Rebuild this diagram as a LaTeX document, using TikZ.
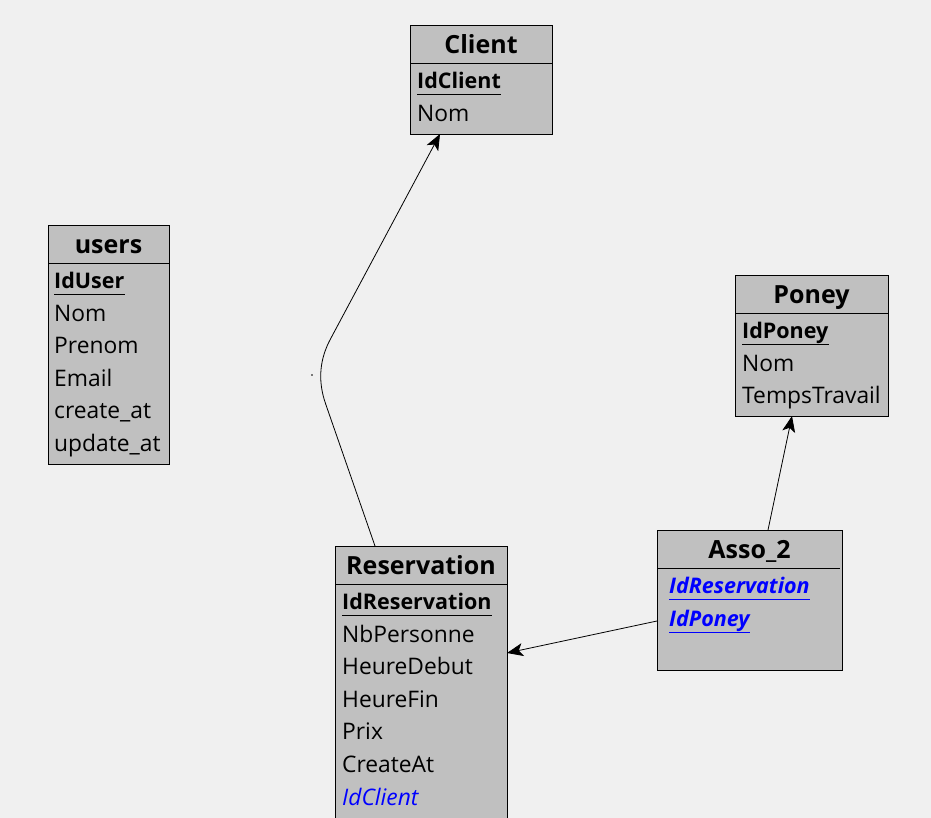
\documentclass[tikz,border=0pt]{standalone}
\usepackage{fontspec}
\setmainfont{Open Sans}
\usetikzlibrary{arrows.meta,calc}
\definecolor{bg}{HTML}{F0F0F0}
\definecolor{ent}{HTML}{C0C0C0}
\definecolor{fk}{HTML}{0000FF}
\begin{document}
\begin{tikzpicture}[x=1pt,y=-1pt,
  entbox/.style={draw=black, fill=ent, line width=0.9pt, anchor=north west, inner sep=0pt, outer sep=0pt},
  ttl/.style={font=\fontsize{25}{25}\selectfont\bfseries, anchor=base, inner sep=0pt},
  attr/.style={font=\fontsize{22.8}{23}\selectfont, anchor=base west, inner sep=0pt},
  pk/.style={attr, font=\fontsize{21.5}{22}\selectfont\bfseries},
  fkey/.style={attr, text=fk, font=\fontsize{22.8}{23}\selectfont\itshape},
  pfk/.style={attr, text=fk, font=\fontsize{21.5}{22}\selectfont\bfseries\itshape},
  hline/.style={draw=black, line width=0.9pt},
  uline/.style={line width=0.9pt},
  conn/.style={draw=black, line width=0.8pt, -{Stealth[length=16pt,width=13pt,inset=4pt]}}
]
\fill[bg] (0,0) rectangle (931,818);
\useasboundingbox (0,0) rectangle (931,818);
\clip (0,0) rectangle (931,818);

% Client
\node[entbox, minimum width=142pt, minimum height=109pt] (client) at (410,25) {};
\draw[hline] (410,63) -- (552,63);
\node[ttl] (clientT) at (481,53.5) {Client};
\node[pk] (cid) at (417,88.5) {IdClient};
\draw[uline] ([yshift=-6pt]cid.base west) -- ([yshift=-6pt]cid.base east);
\node[attr] (cnom) at (417,121.5) {Nom};

% users
\node[entbox, minimum width=121pt, minimum height=239pt] (users) at (48,225) {};
\draw[hline] (48,263) -- (169,263);
\node[ttl] (usersT) at (108.5,253.5) {users};
\node[pk] (uid) at (54,288.5) {IdUser};
\draw[uline] ([yshift=-6pt]uid.base west) -- ([yshift=-6pt]uid.base east);
\node[attr] (unom) at (54,321.1) {Nom};
\node[attr] (upre) at (54,353.7) {Prenom};
\node[attr] (uem) at (54,386.3) {Email};
\node[attr] (ucr) at (54,418.9) {create\_at};
\node[attr] (uup) at (54,451.5) {update\_at};

% Poney
\node[entbox, minimum width=153pt, minimum height=141pt] (poney) at (735,275) {};
\draw[hline] (735,313) -- (888,313);
\node[ttl] (poneyT) at (811.5,303.5) {Poney};
\node[pk] (pid) at (742,338.5) {IdPoney};
\draw[uline] ([yshift=-6pt]pid.base west) -- ([yshift=-6pt]pid.base east);
\node[attr] (pnom) at (742,371.1) {Nom};
\node[attr] (ptt) at (742,403.7) {TempsTravail};

% Asso_2
\node[entbox, minimum width=185pt, minimum height=140pt] (asso) at (657,530) {};
\draw[hline] (657,568) -- (840,568);
\node[ttl] (assoT) at (749.5,558.5) {Asso\_2};
\node[pfk] (ares) at (669,593.5) {IdReservation};
\draw[uline, fk] ([yshift=-6pt]ares.base west) -- ([yshift=-6pt]ares.base east);
\node[pfk] (apon) at (669,626.1) {IdPoney};
\draw[uline, fk] ([yshift=-6pt]apon.base west) -- ([yshift=-6pt]apon.base east);

% Reservation
\node[entbox, minimum width=172pt, minimum height=290pt] (res) at (335,546) {};
\draw[hline] (335,584) -- (507,584);
\node[ttl] (resT) at (421,574.5) {Reservation};
\node[pk] (rid) at (342,609.5) {IdReservation};
\draw[uline] ([yshift=-6pt]rid.base west) -- ([yshift=-6pt]rid.base east);
\node[attr] (rnb) at (342,642.1) {NbPersonne};
\node[attr] (rhd) at (342,674.7) {HeureDebut};
\node[attr] (rhf) at (342,707.3) {HeureFin};
\node[attr] (rpx) at (342,739.9) {Prix};
\node[attr] (rca) at (342,772.5) {CreateAt};
\node[fkey] (rcl) at (342,805.1) {IdClient};

% connector anchor points
\coordinate (resTop) at ($(res.north west)+(40,0)$);
\coordinate (resEast) at ($(res.north west)+(172,107)$);
\coordinate (clientBot) at ($(client.south west)+(30,0)$);
\coordinate (poneyBot) at ($(poney.south west)+(57,0)$);
\coordinate (assoTop) at ($(asso.north west)+(111,0)$);
\coordinate (assoWest) at ($(asso.north west)+(0,91)$);

% connectors
\draw[conn] (resTop) -- (326,405) .. controls (317,380) and (320,358) .. (331,338) -- (clientBot);
\draw[conn] (assoTop) -- (poneyBot);
\draw[conn] (assoWest) -- (resEast);
\fill[black] (312,375) circle (0.8pt);
\end{tikzpicture}
\end{document}
